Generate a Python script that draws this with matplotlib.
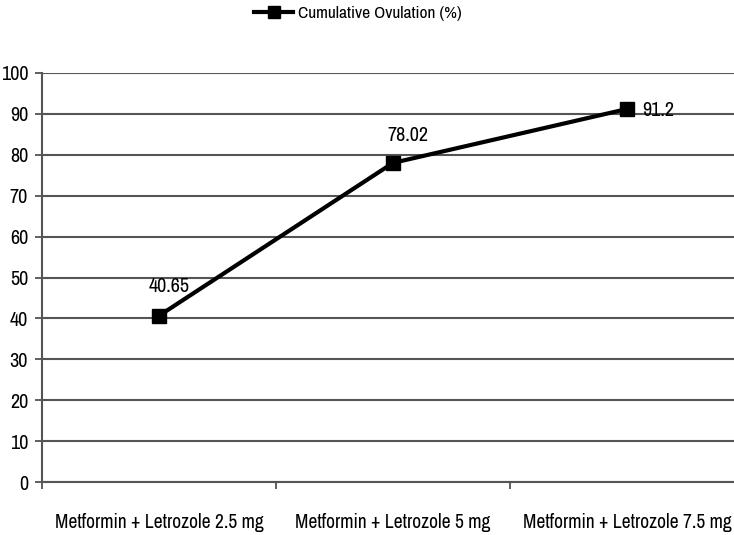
import matplotlib
matplotlib.use('Agg')
import matplotlib.pyplot as plt

categories = ['Metformin + Letrozole 2.5 mg', 'Metformin + Letrozole 5 mg', 'Metformin + Letrozole 7.5 mg']
ovulation = [40.65, 78.02, 91.2]
value_labels = ['40.65', '78.02', '91.2']
y_ticks = list(range(0, 101, 10))

plt.rcParams['font.family'] = ['Archivo Narrow', 'DejaVu Sans']

fig = plt.figure(figsize=(7.34, 5.35), dpi=100)
ax = fig.add_axes([42 / 734, 53 / 535, 702 / 734, 409 / 535])

x = list(range(len(categories)))
ax.plot(x, ovulation, color='black', linewidth=3, marker='s', markersize=10,
        label='Cumulative Ovulation (%)', zorder=3)

# data labels, placed like the original
ax.annotate(value_labels[0], (x[0], ovulation[0]), xytext=(7, 14), textcoords='offset points',
            ha='center', va='bottom', fontsize=14.5)
ax.annotate(value_labels[1], (x[1], ovulation[1]), xytext=(11, 13), textcoords='offset points',
            ha='center', va='bottom', fontsize=14.5)
ax.annotate(value_labels[2], (x[2], ovulation[2]), xytext=(11, -1), textcoords='offset points',
            ha='left', va='center', fontsize=14.5)

ax.set_xlim(-0.5, 2.5)
ax.set_ylim(0, 100)
ax.set_yticks(y_ticks)
ax.set_xticks([-0.5, 0.5, 1.5, 2.5])
ax.set_xticklabels([])
ax.set_xticks(x, minor=True)
ax.set_xticklabels(categories, minor=True, fontsize=14)
ax.tick_params(axis='x', which='minor', length=0, pad=22)
ax.tick_params(axis='x', which='major', direction='out', length=5, color='#444444', width=1.2)
ax.tick_params(axis='y', direction='out', length=5, labelsize=14.5, color='#444444', width=1.2, pad=5)

ax.grid(axis='y', color='#555555', linewidth=1.5)
ax.set_axisbelow(True)
for s in ['top', 'right']:
    ax.spines[s].set_visible(False)
ax.spines['left'].set_color('#555555')
ax.spines['left'].set_linewidth(1.5)
ax.spines['bottom'].set_color('#555555')
ax.spines['bottom'].set_linewidth(1.5)

fig.legend(loc='center', bbox_to_anchor=(358 / 734, 1 - 13 / 535), frameon=False, fontsize=12.5,
           handlelength=2.2, handletextpad=0.3, markerscale=0.8)

fig.savefig('out.png', dpi=100)
